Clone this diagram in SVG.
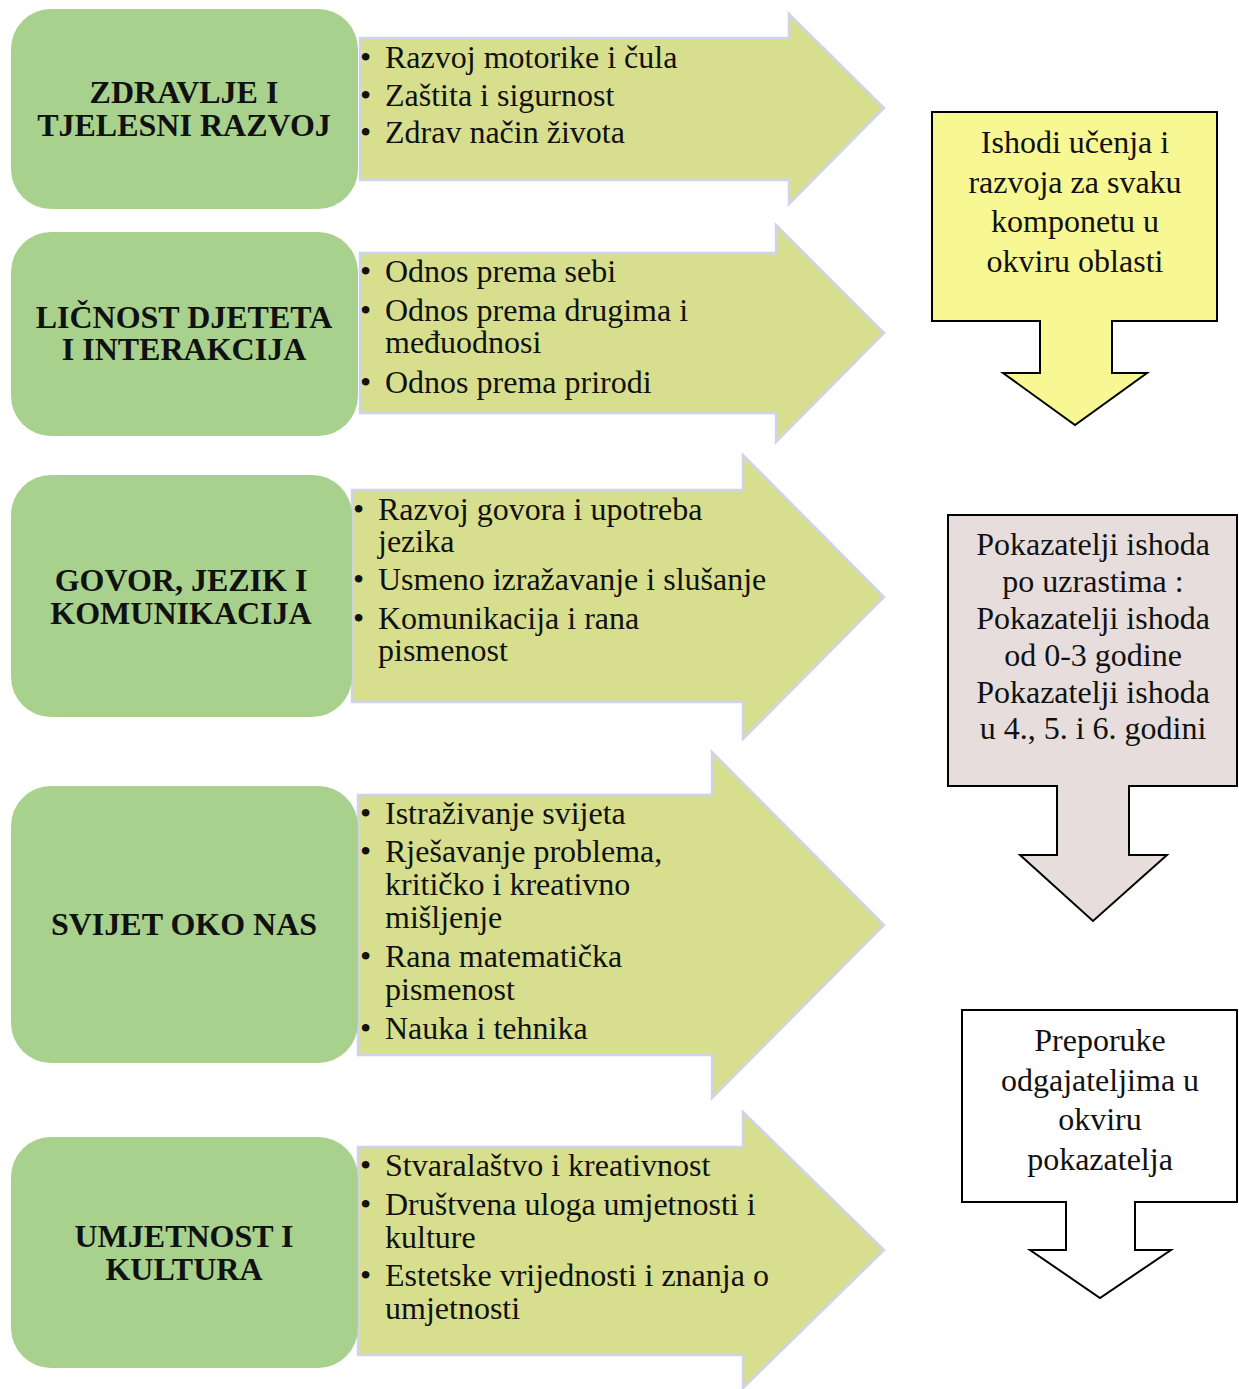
<svg xmlns="http://www.w3.org/2000/svg" width="1239" height="1389" viewBox="0 0 1239 1389">
<style>
.box{fill:#a9d18e;}
.arr{fill:#d7df8f;stroke:#cfd3ec;stroke-width:2.5;}
.title{font-family:"Liberation Serif","Times New Roman",serif;font-weight:bold;font-size:32px;text-anchor:middle;fill:#111;}
.bul{font-family:"Liberation Serif","Times New Roman",serif;font-size:32px;fill:#111;}
.co{stroke:#000;stroke-width:2;}
.cot{font-family:"Liberation Serif","Times New Roman",serif;font-size:32px;text-anchor:middle;fill:#111;}
</style>
<rect width="1239" height="1389" fill="#fff"/>
<g id="connectors"></g>

<g id="node1">
<polygon class="arr" points="360,38 789,38 789,14 884,108 789,204 789,180 360,180"/>
<rect class="box" x="11" y="9" width="347" height="200" rx="40"/>
<text class="title" x="184" y="103">ZDRAVLJE I</text>
<text class="title" x="184" y="136">TJELESNI RAZVOJ</text>
<text class="bul" x="360" y="68">• <tspan x="385">Razvoj motorike i čula</tspan></text>
<text class="bul" x="360" y="106">• <tspan x="385">Zaštita i sigurnost</tspan></text>
<text class="bul" x="360" y="143">• <tspan x="385">Zdrav način života</tspan></text>
</g>

<g id="node2">
<polygon class="arr" points="360,253 776,253 776,225 884,333 776,442 776,413 360,413"/>
<rect class="box" x="11" y="232" width="347" height="204" rx="40"/>
<text class="title" x="184" y="328">LIČNOST DJETETA</text>
<text class="title" x="184" y="360">I INTERAKCIJA</text>
<text class="bul" x="360" y="282">• <tspan x="385">Odnos prema sebi</tspan></text>
<text class="bul" x="360" y="321">• <tspan x="385">Odnos prema drugima i</tspan></text>
<text class="bul" x="385" y="353">međuodnosi</text>
<text class="bul" x="360" y="393">• <tspan x="385">Odnos prema prirodi</tspan></text>
</g>

<g id="node3">
<polygon class="arr" points="352,490 743,490 743,455 884,597 743,739 743,702 352,702"/>
<rect class="box" x="11" y="475" width="341" height="242" rx="40"/>
<text class="title" x="181" y="591">GOVOR, JEZIK I</text>
<text class="title" x="181" y="624">KOMUNIKACIJA</text>
<text class="bul" x="353" y="520">• <tspan x="378">Razvoj govora i upotreba</tspan></text>
<text class="bul" x="378" y="552">jezika</text>
<text class="bul" x="353" y="590">• <tspan x="378">Usmeno izražavanje i slušanje</tspan></text>
<text class="bul" x="353" y="629">• <tspan x="378">Komunikacija i rana</tspan></text>
<text class="bul" x="378" y="661">pismenost</text>
</g>

<g id="node4">
<polygon class="arr" points="358,795 712,795 712,752 884,925 712,1098 712,1055 358,1055"/>
<rect class="box" x="11" y="786" width="347" height="277" rx="40"/>
<text class="title" x="184" y="935">SVIJET OKO NAS</text>
<text class="bul" x="360" y="824">• <tspan x="385">Istraživanje svijeta</tspan></text>
<text class="bul" x="360" y="862">• <tspan x="385">Rješavanje problema,</tspan></text>
<text class="bul" x="385" y="895">kritičko i kreativno</text>
<text class="bul" x="385" y="928">mišljenje</text>
<text class="bul" x="360" y="967">• <tspan x="385">Rana matematička</tspan></text>
<text class="bul" x="385" y="1000">pismenost</text>
<text class="bul" x="360" y="1039">• <tspan x="385">Nauka i tehnika</tspan></text>
</g>

<g id="node5">
<polygon class="arr" points="358,1147 743,1147 743,1112 884,1250 743,1388 743,1355 358,1355"/>
<rect class="box" x="11" y="1137" width="347" height="231" rx="40"/>
<text class="title" x="184" y="1247">UMJETNOST I</text>
<text class="title" x="184" y="1280">KULTURA</text>
<text class="bul" x="360" y="1176">• <tspan x="385">Stvaralaštvo i kreativnost</tspan></text>
<text class="bul" x="360" y="1215">• <tspan x="385">Društvena uloga umjetnosti i</tspan></text>
<text class="bul" x="385" y="1248">kulture</text>
<text class="bul" x="360" y="1286">• <tspan x="385">Estetske vrijednosti i znanja o</tspan></text>
<text class="bul" x="385" y="1319">umjetnosti</text>
</g>

<g id="callout1">
<path class="co" fill="#f7f794" d="M932,112 H1217 V321 H1112 V373 H1147 L1075,425 L1003,373 H1040 V321 H932 Z"/>
<text class="cot" x="1075" y="153">Ishodi učenja i</text>
<text class="cot" x="1075" y="193">razvoja za svaku</text>
<text class="cot" x="1075" y="232">komponetu u</text>
<text class="cot" x="1075" y="272">okviru oblasti</text>
</g>

<g id="callout2">
<path class="co" fill="#e7dddd" d="M948,515 H1237 V786 H1129 V855 H1167 L1093,921 L1020,855 H1057 V786 H948 Z"/>
<text class="cot" x="1093" y="555">Pokazatelji ishoda</text>
<text class="cot" x="1093" y="592">po uzrastima :</text>
<text class="cot" x="1093" y="629">Pokazatelji ishoda</text>
<text class="cot" x="1093" y="666">od 0-3 godine</text>
<text class="cot" x="1093" y="703">Pokazatelji ishoda</text>
<text class="cot" x="1093" y="739">u 4., 5. i 6. godini</text>
</g>

<g id="callout3">
<path class="co" fill="#ffffff" d="M962,1010 H1237 V1202 H1135 V1250 H1171 L1100,1298 L1030,1250 H1066 V1202 H962 Z"/>
<text class="cot" x="1100" y="1051">Preporuke</text>
<text class="cot" x="1100" y="1091">odgajateljima u</text>
<text class="cot" x="1100" y="1130">okviru</text>
<text class="cot" x="1100" y="1170">pokazatelja</text>
</g>
</svg>
